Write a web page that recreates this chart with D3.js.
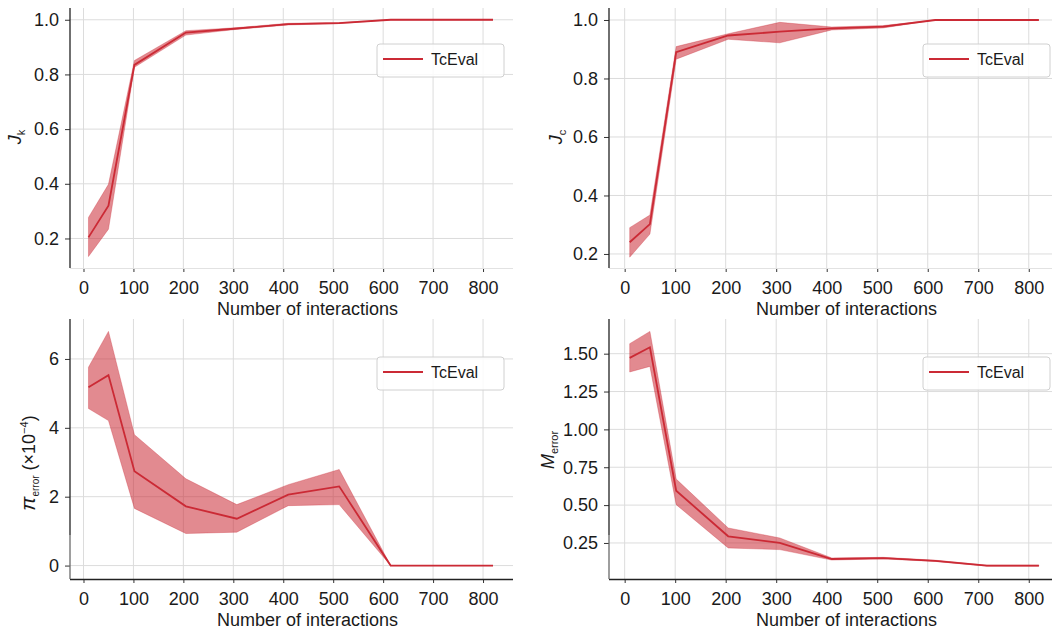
<!DOCTYPE html>
<html>
<head>
<meta charset="utf-8">
<script src="https://cdn.jsdelivr.net/npm/d3@7"></script>
<style>
  body { margin: 0; background: #fff; }
  svg { font-family: "Liberation Sans", Arial, sans-serif; }
</style>
</head>
<body>
<div id="chart"></div>
<script>
// x positions (number of interactions)
const xVals = [10, 50, 102, 205, 307, 410, 512, 615, 717, 820];
const xTicks = [0, 100, 200, 300, 400, 500, 600, 700, 800];

// J_k
const jkMean = [0.204, 0.320, 0.835, 0.953, 0.968, 0.984, 0.988, 1.0, 1.0, 1.0];
const jkLow  = [0.134, 0.234, 0.826, 0.944, 0.965, 0.981, 0.986, 1.0, 1.0, 1.0];
const jkHigh = [0.277, 0.398, 0.851, 0.960, 0.971, 0.987, 0.990, 1.0, 1.0, 1.0];

// J_c
const jcMean = [0.240, 0.302, 0.890, 0.947, 0.960, 0.971, 0.977, 1.0, 1.0, 1.0];
const jcLow  = [0.189, 0.268, 0.866, 0.934, 0.922, 0.966, 0.973, 1.0, 1.0, 1.0];
const jcHigh = [0.290, 0.333, 0.909, 0.953, 0.992, 0.976, 0.981, 1.0, 1.0, 1.0];

// pi_error (x1e-4)
const piMean = [5.18, 5.53, 2.74, 1.72, 1.36, 2.06, 2.30, 0.0, 0.0, 0.0];
const piLow  = [4.56, 4.21, 1.66, 0.93, 0.97, 1.74, 1.77, 0.0, 0.0, 0.0];
const piHigh = [5.76, 6.80, 3.80, 2.52, 1.77, 2.35, 2.79, 0.0, 0.0, 0.0];

// M_error
const mMean = [1.472, 1.542, 0.595, 0.294, 0.250, 0.144, 0.150, 0.132, 0.100, 0.100];
const mLow  = [1.379, 1.416, 0.503, 0.217, 0.206, 0.137, 0.145, 0.128, 0.097, 0.097];
const mHigh = [1.566, 1.647, 0.672, 0.349, 0.283, 0.151, 0.155, 0.136, 0.103, 0.103];

const jTicks = [0.2, 0.4, 0.6, 0.8, 1.0];
const piTicks = [0, 2, 4, 6];
const mTicks = [0.25, 0.50, 0.75, 1.00, 1.25, 1.50];

const seriesName = "TcEval";
const lineColor = "#cb2a35";

const W = 1054, H = 632;
const svg = d3.select("#chart").append("svg")
    .attr("width", W)
    .attr("height", H);

// panel layout (pixel boxes of each axes area)
const panels = [
  { x0: 70, x1: 513, y0: 8, y1: 268, xDom: [-27, 860], yDom: [0.092, 1.043],
    mean: jkMean, low: jkLow, high: jkHigh, ticks: jTicks, fmt: d3.format(".1f"),
    label: "k", labelX: 21, labelY: 137, top: true, legendX: 377, legendY: 44 },
  { x0: 609, x1: 1052, y0: 8, y1: 268, xDom: [-31, 846], yDom: [0.152, 1.041],
    mean: jcMean, low: jcLow, high: jcHigh, ticks: jTicks, fmt: d3.format(".1f"),
    label: "c", labelX: 562, labelY: 137, top: true, legendX: 923, legendY: 44 },
  { x0: 70, x1: 513, y0: 319, y1: 579, xDom: [-27, 860], yDom: [-0.39, 7.16],
    mean: piMean, low: piLow, high: piHigh, ticks: piTicks, fmt: d3.format("d"),
    label: "pi", labelX: 35, labelY: 463, top: false, legendX: 377, legendY: 357 },
  { x0: 609, x1: 1052, y0: 319, y1: 579, xDom: [-31, 846], yDom: [0.012, 1.729],
    mean: mMean, low: mLow, high: mHigh, ticks: mTicks, fmt: d3.format(".2f"),
    label: "M", labelX: 554, labelY: 450, top: false, legendX: 923, legendY: 357 }
];

const tickFont = 18;

panels.forEach(p => {
  const x = d3.scaleLinear().domain(p.xDom).range([p.x0, p.x1]);
  const y = d3.scaleLinear().domain(p.yDom).range([p.y1, p.y0]);
  const g = svg.append("g");

  // grid
  g.append("g").selectAll("line").data(xTicks).join("line")
    .attr("x1", d => x(d)).attr("x2", d => x(d))
    .attr("y1", p.y0).attr("y2", p.y1)
    .attr("stroke", "#dcdcdc").attr("stroke-width", 1);
  g.append("g").selectAll("line").data(p.ticks).join("line")
    .attr("x1", p.x0).attr("x2", p.x1)
    .attr("y1", d => y(d)).attr("y2", d => y(d))
    .attr("stroke", "#dcdcdc").attr("stroke-width", 1);

  // band + line
  const data = xVals.map((v, i) => ({ x: v, m: p.mean[i], lo: p.low[i], hi: p.high[i] }));
  g.append("path").datum(data)
    .attr("fill", lineColor).attr("fill-opacity", 0.55)
    .attr("stroke", lineColor).attr("stroke-opacity", 0.4).attr("stroke-width", 0.8)
    .attr("d", d3.area().x(d => x(d.x)).y0(d => y(d.lo)).y1(d => y(d.hi)));
  g.append("path").datum(data)
    .attr("fill", "none").attr("stroke", lineColor).attr("stroke-width", 1.8)
    .attr("d", d3.line().x(d => x(d.x)).y(d => y(d.m)));

  // x axis
  const xAxis = g.append("g")
    .attr("transform", `translate(0,${p.y1})`)
    .call(d3.axisBottom(x).tickValues(xTicks).tickSize(4).tickPadding(9).tickFormat(d3.format("d")));
  xAxis.select(".domain").remove();
  xAxis.selectAll("line").attr("stroke", "#333");
  xAxis.selectAll("text").attr("font-size", tickFont).attr("fill", "#1a1a1a")
    .attr("font-family", "Liberation Sans, Arial, sans-serif");
  g.append("line")
    .attr("x1", p.x0).attr("x2", p.x1).attr("y1", p.y1 + 0.5).attr("y2", p.y1 + 0.5)
    .attr("stroke", p.top ? "#e2e2e2" : "#222").attr("stroke-width", p.top ? 1 : 1.3);

  // y axis
  const yAxis = g.append("g")
    .attr("transform", `translate(${p.x0},0)`)
    .call(d3.axisLeft(y).tickValues(p.ticks).tickSize(5).tickPadding(6).tickFormat(p.fmt));
  yAxis.select(".domain").remove();
  yAxis.selectAll("line").attr("stroke", "#333");
  yAxis.selectAll("text").attr("font-size", tickFont).attr("fill", "#1a1a1a")
    .attr("font-family", "Liberation Sans, Arial, sans-serif");
  if (p.top) {
    g.append("line").attr("x1", p.x0).attr("x2", p.x0).attr("y1", p.y0).attr("y2", p.y1)
      .attr("stroke", "#222").attr("stroke-width", 1.3);
  } else {
    g.append("line").attr("x1", p.x0).attr("x2", p.x0).attr("y1", p.y0).attr("y2", p.y1 - 44)
      .attr("stroke", "#222").attr("stroke-width", 1.3);
    g.append("line").attr("x1", p.x0).attr("x2", p.x0).attr("y1", p.y1 - 44).attr("y2", p.y1)
      .attr("stroke", "#6a6a6a").attr("stroke-width", 1.3);
  }

  // x label
  g.append("text")
    .attr("x", (p.x0 + p.x1) / 2 + 16)
    .attr("y", p.y1 + 47)
    .attr("text-anchor", "middle")
    .attr("font-size", 18).attr("fill", "#1a1a1a")
    .text("Number of interactions");

  // y label
  const yl = g.append("text")
    .attr("transform", `translate(${p.labelX},${p.labelY}) rotate(-90)`)
    .attr("text-anchor", "middle")
    .attr("font-size", 18).attr("fill", "#1a1a1a");
  if (p.label === "k" || p.label === "c") {
    yl.append("tspan").attr("font-style", "italic").text("J");
    yl.append("tspan").attr("font-size", 11).attr("dy", 4).text(p.label);
  } else if (p.label === "pi") {
    yl.append("tspan").attr("font-style", "italic").attr("font-size", 21).text("π");
    yl.append("tspan").attr("font-size", 10).attr("dy", 4).text("error");
    yl.append("tspan").attr("dy", -4).text(" (×10");
    yl.append("tspan").attr("font-size", 11).attr("dy", -7).text("−4");
    yl.append("tspan").attr("dy", 7).text(")");
  } else {
    yl.append("tspan").attr("font-style", "italic").text("M");
    yl.append("tspan").attr("font-size", 11).attr("dy", 4).text("error");
  }

  // legend
  const lg = g.append("g").attr("transform", `translate(${p.legendX},${p.legendY})`);
  lg.append("rect").attr("width", 127).attr("height", 33).attr("rx", 3)
    .attr("fill", "#fff").attr("fill-opacity", 0.85)
    .attr("stroke", "#d0d0d0").attr("stroke-width", 1);
  lg.append("line").attr("x1", 6).attr("x2", 46).attr("y1", 15).attr("y2", 15)
    .attr("stroke", lineColor).attr("stroke-width", 1.8);
  lg.append("text").attr("x", 54).attr("y", 21)
    .attr("font-size", 16).attr("fill", "#1a1a1a").text(seriesName);
});
</script>
</body>
</html>
